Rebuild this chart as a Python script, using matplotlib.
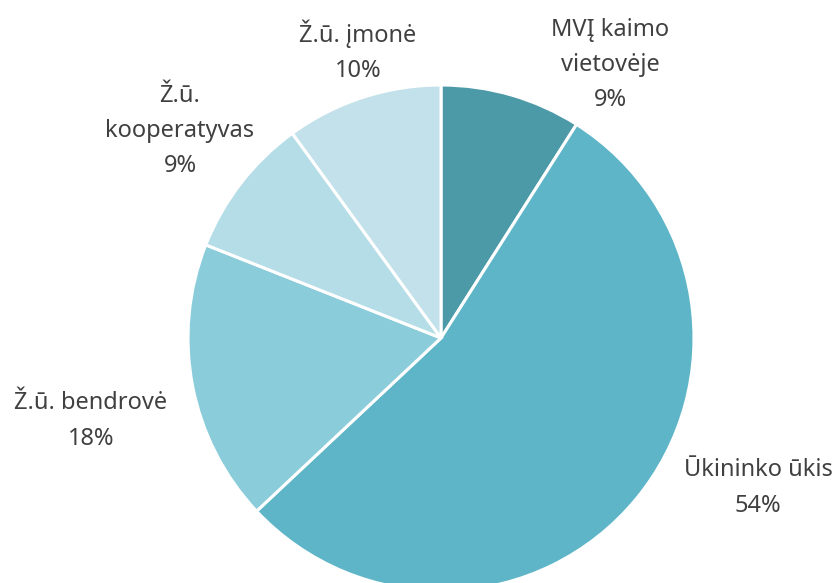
import matplotlib
matplotlib.use("Agg")
from matplotlib import pyplot as plt

labels = ["MVĮ kaimo\nvietovėje", "Ūkininko ūkis", "Ž.ū. bendrovė", "Ž.ū.\nkooperatyvas", "Ž.ū. įmonė"]
shares = [9, 54, 18, 9, 10]
colors = ["#4C9AA8", "#5DB5C7", "#8BCCDB", "#B5DDE7", "#C2E1EA"]

# label centres in pixels (x, y from top)
label_px = [(610, 65), (758, 488), (91, 421), (180, 131), (358, 51)]

W, H = 838, 583
cx, cy, r = 441, 338, 253

fig = plt.figure(figsize=(W / 100, H / 100), dpi=100)
ax = fig.add_axes([(cx - r) / W, (H - cy - r) / H, 2 * r / W, 2 * r / H])
ax.pie(shares, colors=colors, startangle=90, counterclock=False,
       wedgeprops=dict(edgecolor="white", linewidth=2.2))
ax.set_xlim(-1, 1)
ax.set_ylim(-1, 1)
ax.axis("off")

for lab, val, (px, py) in zip(labels, shares, label_px):
    fig.text(px / W, 1 - py / H, f"{lab}\n{val}%", ha="center", va="center",
             fontsize=17, color="#404040", family="Noto Sans", linespacing=1.62)

plt.savefig("out.png", dpi=100)
